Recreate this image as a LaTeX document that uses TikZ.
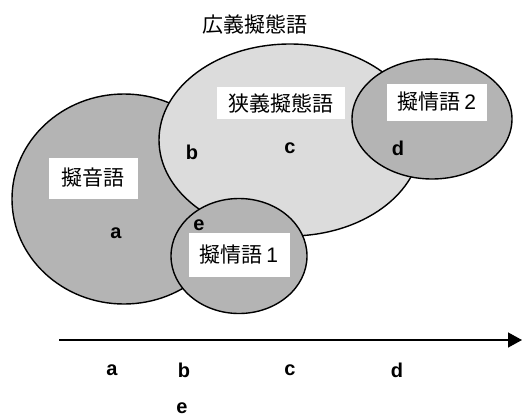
\documentclass[tikz,border=0pt]{standalone}
\usepackage{fontspec}
\setmainfont{Liberation Sans}
\newfontfamily\jp{Noto Sans CJK JP}
\usetikzlibrary{shapes.geometric,arrows.meta}
\definecolor{darkfill}{HTML}{B4B4B4}
\definecolor{lightfill}{HTML}{DCDCDC}
\tikzset{
  blob/.style={ellipse,draw=black,line width=1.4pt,inner sep=0pt},
  jlabel/.style={fill=white,inner sep=0pt,font=\jp\fontsize{21}{21}\selectfont},
  letter/.style={inner sep=0pt,font=\fontsize{20}{20}\selectfont\bfseries}
}
\begin{document}
\begin{tikzpicture}[x=1pt,y=-1pt]
\useasboundingbox (0,0) rectangle (522,416);
% ellipses
\node[blob,fill=darkfill,minimum width=224pt,minimum height=210pt] (onom) at (124,199) {};
\node[blob,fill=lightfill,minimum width=262pt,minimum height=192pt] (narrow) at (290,140) {};
\node[blob,fill=darkfill,minimum width=160pt,minimum height=120pt] (emo2) at (432,119) {};
\node[blob,fill=darkfill,minimum width=136pt,minimum height=115pt] (emo1) at (239,256) {};
% labels
\node[inner sep=0pt,font=\jp\fontsize{21}{21}\selectfont] (wide) at (255,25) {広義擬態語};
\node[jlabel,minimum width=89pt,minimum height=41pt] (lonom) at (93,178) {擬音語};
\node[jlabel,minimum width=128pt,minimum height=32pt] (lnarrow) at (281,103) {狭義擬態語};
\node[jlabel,minimum width=100pt,minimum height=37pt] (lemo2) at (437,102) {擬情語\,{\rmfamily 2}};
\node[jlabel,minimum width=101pt,minimum height=44pt] (lemo1) at (239,255) {擬情語\,{\rmfamily 1}};
% letters inside
\node[letter] (ia) at (116,233) {a};
\node[letter] (ib) at (192,152) {b};
\node[letter] (ic) at (290,148) {c};
\node[letter] (id) at (398,148) {d};
\node[letter] (ie) at (199,225) {e};
% axis
\coordinate (axs) at (59,340);
\coordinate (axe) at (522,340);
\draw[line width=1.4pt,-{Triangle[length=14pt,width=15pt]}] (axs) -- (axe);
\node[letter] (xa) at (112,370) {a};
\node[letter] (xb) at (184,370) {b};
\node[letter] (xc) at (290,370) {c};
\node[letter] (xd) at (397,370) {d};
\node[letter] (xe) at (182,408) {e};
\end{tikzpicture}
\end{document}
